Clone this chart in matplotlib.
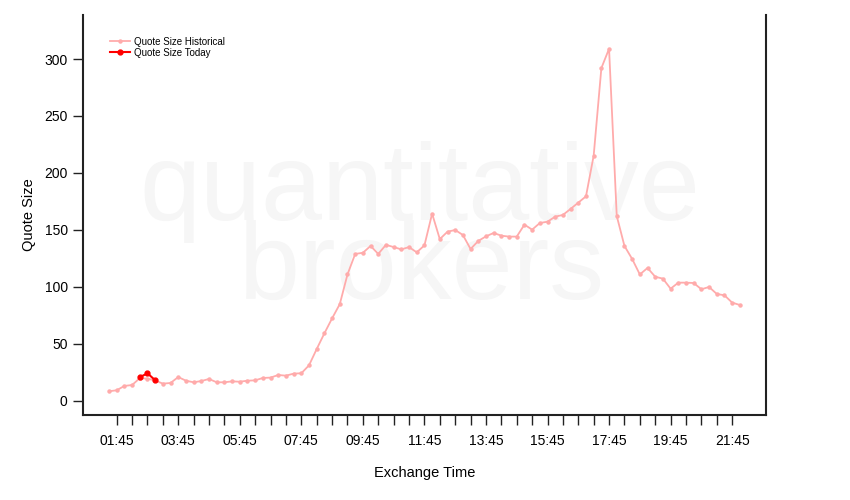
import numpy as np
import matplotlib
matplotlib.use("Agg")
import matplotlib.pyplot as plt

plt.rcParams['font.family'] = ['Liberation Sans', 'DejaVu Sans']

# quarter-hour buckets, starting 01:30
start_hour = 1.5
step_hour = 0.25

historical = [8.5, 9.4, 13.2, 14, 20, 19.6, 18, 15.2, 15.8, 21,
              17.8, 16.4, 17.5, 19.3, 16.4, 16.4, 17.2, 16.9, 17.8, 18.1,
              20.2, 20.5, 22.8, 22.2, 24, 24.3, 31.3, 45.6, 59.4, 72.5,
              85, 111, 129, 130, 136, 129, 137, 135, 133, 135,
              130.4, 136.5, 164.3, 142, 148.5, 150, 145.6, 133.3, 140.4, 144.4,
              147.4, 145, 144.2, 144.2, 154.7, 150.3, 156.1, 157.3, 161.7, 163.2,
              168.5, 174, 179.5, 215.2, 292, 309, 162.3, 136, 124.6, 111,
              116.7, 109, 107.3, 98.5, 103.8, 103.8, 103.5, 98, 100, 93.9,
              92.7, 86.3, 84.2]
today_start = 2.5
today = [20.8, 24.3, 18.2]

hist_t = start_hour + step_hour * np.arange(len(historical))
today_t = today_start + step_hour * np.arange(len(today))

fig = plt.figure(figsize=(8.5, 5), dpi=100)
ax = fig.add_axes([83 / 850, 85 / 500, (766 - 83) / 850, 400 / 500])

# watermark
wm_color = '#f6f6f6'
ax.text(0.494, 0.56, 'quantitative', transform=fig.transFigure, fontsize=79,
        color=wm_color, ha='center', va='baseline', zorder=0)
ax.text(0.496, 0.402, 'brokers', transform=fig.transFigure, fontsize=79,
        color=wm_color, ha='center', va='baseline', zorder=0)

ax.plot(hist_t, historical, color='#ffabab', lw=1.3, marker='o', ms=2.2,
        label='Quote Size Historical', zorder=2)
ax.plot(today_t, today, color='#ff0000', lw=1.5, marker='o', ms=3.5,
        label='Quote Size Today', zorder=3)

ax.set_xlim(0.655, 22.85)
ax.set_ylim(-12.3, 338.6)

major = np.arange(1.75, 21.76, 0.5)
ax.set_xticks(major)
labels = []
for i, h in enumerate(major):
    if i % 4 == 0:
        hh = int(h)
        mm = int(round((h - hh) * 60))
        labels.append('%02d:%02d' % (hh, mm))
    else:
        labels.append('')
ax.set_xticklabels(labels)
ax.set_yticks(np.arange(0, 301, 50))

ax.tick_params(axis='both', direction='out', length=7, width=1, labelsize=10,
               color='#222222')
ax.tick_params(axis='x', pad=7)
ax.tick_params(axis='y', pad=4)

for side in ['left', 'bottom', 'right']:
    ax.spines[side].set_linewidth(1.5)
    ax.spines[side].set_color('#222222')
ax.spines['top'].set_visible(False)

ax.set_xlabel('Exchange Time', fontsize=10.5, labelpad=13)
ax.set_ylabel('Quote Size', fontsize=10.5, labelpad=6)

ax.legend(loc='upper left', bbox_to_anchor=(0.034, 0.955), frameon=False,
          fontsize=7, handlelength=2.0, handletextpad=0.5, labelspacing=0.1,
          borderaxespad=0)

fig.savefig('out.png', dpi=100)
